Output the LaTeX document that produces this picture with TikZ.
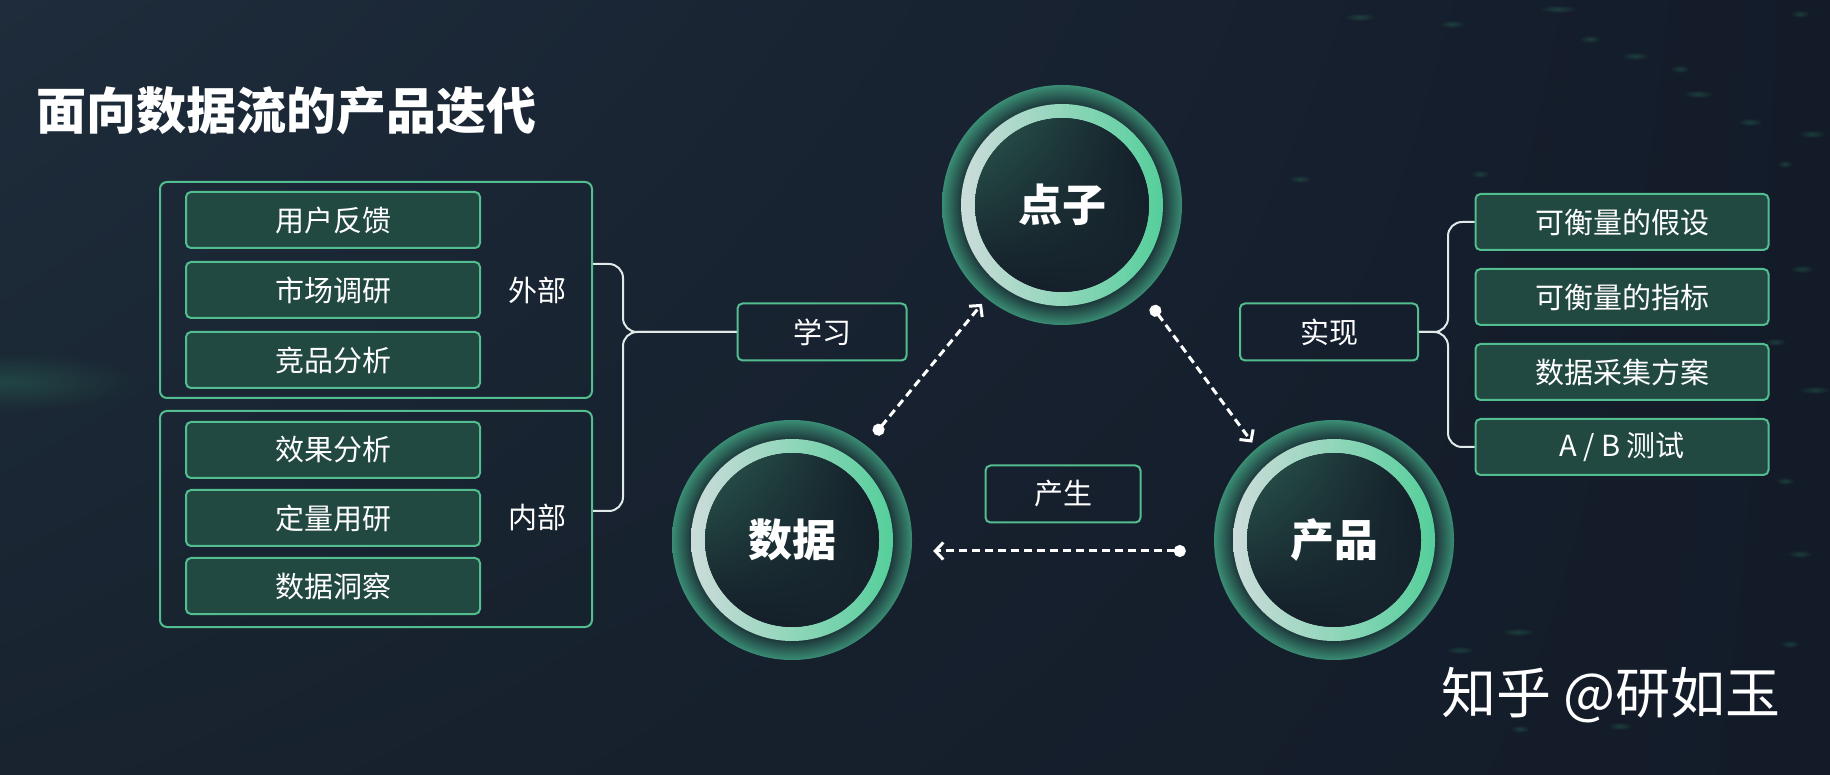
\documentclass[tikz,border=0pt]{standalone}
\usepackage{fontspec}
\setmainfont{Noto Sans CJK SC}
\usetikzlibrary{arrows.meta, positioning, fadings, shadings}

\definecolor{bgtop}{HTML}{1E2C3B}
\definecolor{bgmid}{HTML}{18232F}
\definecolor{bgdark}{HTML}{131B29}
\definecolor{boxfill}{HTML}{224842}
\definecolor{boxline}{HTML}{52BD8E}
\definecolor{braceline}{HTML}{E2E9EB}
\definecolor{ringL}{HTML}{CCDCDA}
\definecolor{ringR}{HTML}{55CF9B}
\definecolor{glow}{HTML}{3A8D74}
\definecolor{hubdark}{HTML}{131B27}
\definecolor{hubgreen}{HTML}{2A5A4F}
\definecolor{speck}{HTML}{3FCB86}

\pgfdeclareradialshading{hubglow}{\pgfpoint{0bp}{0bp}}{color(0bp)=(hubdark); color(20bp)=(hubdark); color(21bp)=(hubdark!75!glow); color(25bp)=(glow); color(50bp)=(glow)}
\tikzfading[name=softglow, inner color=transparent!0, outer color=transparent!100]

\begin{document}
\begin{tikzpicture}[x=1pt, y=1pt,
    item/.style={draw=boxline, fill=boxfill, line width=2pt, rounded corners=5pt,
                 minimum width=294pt, minimum height=56pt, text=white,
                 font=\fontsize{29pt}{34pt}\selectfont},
    group/.style={draw=boxline, line width=2pt, rounded corners=7pt,
                  minimum width=432pt, minimum height=216pt},
    tag/.style={draw=boxline, line width=2pt, rounded corners=5pt,
                minimum height=57pt, text=white,
                font=\fontsize{29pt}{34pt}\selectfont},
    side/.style={text=white, font=\fontsize{29pt}{34pt}\selectfont},
    hub/.style={circle, minimum size=254pt, text=white,
                font=\bfseries\fontsize{44pt}{50pt}\selectfont},
    flow/.style={draw=white, line width=3pt, dash pattern=on 8pt off 5pt,
                 {Circle[length=12pt]}-{Straight Barb[length=8pt, width=17pt, line width=3pt]}},
    brace/.style={draw=braceline, line width=2pt, rounded corners=14pt}]

    % background
    \shade[upper left=bgtop, upper right=bgdark, lower left=bgmid, lower right=bgdark]
        (0,0) rectangle (1830,774);
    \useasboundingbox (0,0) rectangle (1830,774);
    \fill[speck, opacity=0.18, path fading=softglow] (10,392) ellipse (130 and 30);
    \foreach \x/\y/\w in {1360/757/10, 1452/750/8, 1558/765/12, 1590/735/7, 1635/718/9, 1680/705/6,
                          1698/680/10, 1750/652/8, 1800/760/6, 1812/640/9, 1785/610/5, 1802/505/8,
                          1775/432/7, 1815/384/10, 1785/293/6, 1800/220/8, 1460/124/9, 1518/142/11,
                          1520/45/6, 1620/48/8, 1300/595/7, 1790/130/6, 1700/560/5, 1480/600/6}
        \fill[speck, opacity=0.2, path fading=softglow] (\x,\y) ellipse (\w*1.6 and 4);

    % hubs
    \coordinate (pIdea) at (1062,569);
    \coordinate (pData) at (792,234);
    \coordinate (pProd) at (1334,234);
    \foreach \c in {pIdea, pData, pProd} {
        \shade[shading=hubglow] (\c) circle (120);
        \shade[left color=ringL, right color=ringR, even odd rule]
            (\c) circle (101) (\c) circle (87);
        \shade[upper left=hubgreen, upper right=hubdark, lower left=hubdark, lower right=hubdark!85!hubgreen]
            (\c) circle (87);
    }
    \node[hub] (idea) at (pIdea) {点子};
    \node[hub] (data) at (pData) {数据};
    \node[hub] (prod) at (pProd) {产品};

    \draw[flow, shorten <=7pt] (data.52) -- (idea.231);
    \draw[flow, shorten <=8pt] (idea.312) -- (prod.130);
    \draw[flow, shorten <=21pt, shorten >=14pt] ([yshift=-11pt]prod.west) -- ([yshift=-11pt]data.east);

    % title
    \node[anchor=west, text=white, font=\bfseries\fontsize{50pt}{56pt}\selectfont]
        (title) at (33,663) {面向数据流的产品迭代};

    % left sources
    \node[group] (outer) at (376,484) {};
    \node[group] (inner) at (376,255) {};
    \node[item] (fb) at (333,554) {用户反馈};
    \node[item, below=12pt of fb] (mr) {市场调研};
    \node[item, below=12pt of mr] (ca) {竞品分析};
    \node[item] (ea) at (333,324) {效果分析};
    \node[item, below=10pt of ea] (qr) {定量用研};
    \node[item, below=10pt of qr] (di) {数据洞察};
    \node[side] (ext) at (537,484) {外部};
    \node[side] (int) at (537,257) {内部};

    % tags
    \node[tag, minimum width=169pt] (learn) at (822,442) {学习};
    \node[tag, minimum width=155pt] (gen) at (1063,280) {产生};
    \node[tag, minimum width=178pt] (impl) at (1329,442) {实现};

    \coordinate (lj) at (623,442);
    \draw[brace] ([yshift=26pt]outer.east) -| (lj) -- (learn.west);
    \draw[brace] ([yshift=8pt]inner.east) -| (lj) -- (learn.west);

    % right outputs
    \node[item, minimum width=293pt] (hyp) at (1622,552) {可衡量的假设};
    \node[item, minimum width=293pt, below=17pt of hyp] (met) {可衡量的指标};
    \node[item, minimum width=293pt, below=17pt of met] (col) {数据采集方案};
    \node[item, minimum width=293pt, below=17pt of col] (ab) {A / B 测试};

    \coordinate (rj) at (1448,442);
    \draw[brace] (impl.east) -- (rj) |- (hyp.west);
    \draw[brace] (impl.east) -- (rj) |- (ab.west);

    \node[anchor=west, text=white, font=\fontsize{55pt}{60pt}\selectfont]
        (mark) at (1438,79) {知乎 @研如玉};
\end{tikzpicture}
\end{document}
